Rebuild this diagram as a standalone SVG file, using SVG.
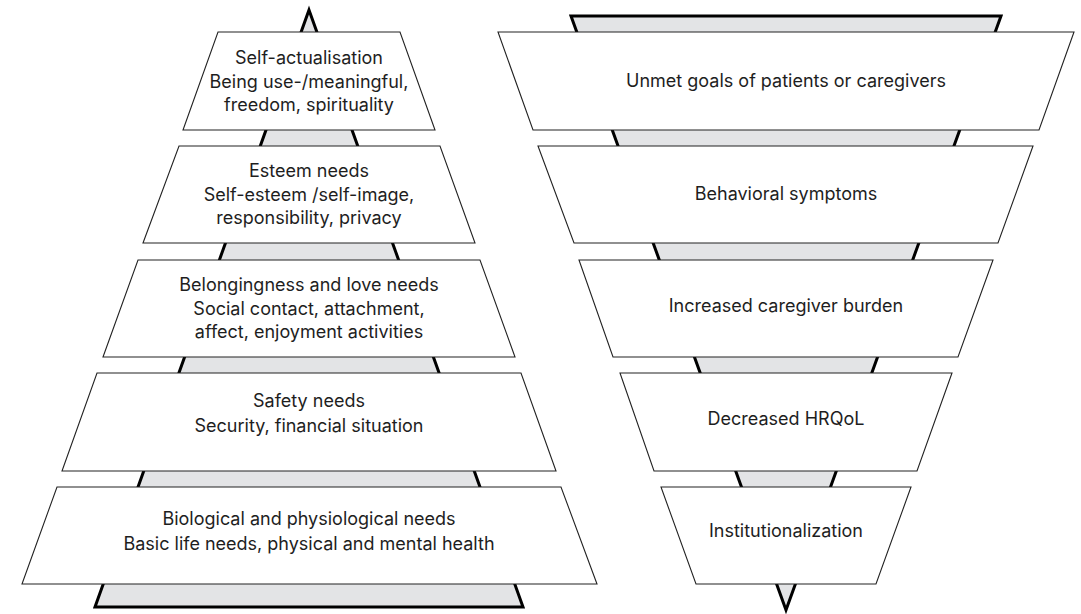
<svg xmlns="http://www.w3.org/2000/svg" width="1081" height="614" viewBox="0 0 1081 614">
  <style>
    .tri { fill: #e3e4e6; stroke: #000; stroke-width: 3; stroke-linejoin: miter; }
    .box { fill: #fff; stroke: #222; stroke-width: 1.1; }
    .t { font-family: "Inter", "Lato", sans-serif; font-size: 18px; fill: #1e1e1e; text-anchor: middle; }
  </style>
  <rect width="1081" height="614" fill="#fff"/>
  <g id="background">
    <polygon class="tri" points="309,10 523,607 95,607"/>
    <polygon class="tri" points="571,16 1001,16 786,610"/>
  </g>
  <g id="connectors"/>
  <g id="self-actualisation">
    <polygon class="box" points="218,32 400,32 435,130 183,130"/>
    <text class="t" x="309" y="64">Self-actualisation</text>
    <text class="t" x="309" y="87.5">Being use-/meaningful,</text>
    <text class="t" x="309" y="111">freedom, spirituality</text>
  </g>
  <g id="esteem">
    <polygon class="box" points="179,146 440,146 475,243 143,243"/>
    <text class="t" x="309" y="177">Esteem needs</text>
    <text class="t" x="309" y="200.5">Self-esteem /self-image,</text>
    <text class="t" x="309" y="224">responsibility, privacy</text>
  </g>
  <g id="belongingness">
    <polygon class="box" points="138,260 480,260 515,357 103,357"/>
    <text class="t" x="309" y="291">Belongingness and love needs</text>
    <text class="t" x="309" y="314.5">Social contact, attachment,</text>
    <text class="t" x="309" y="338">affect, enjoyment activities</text>
  </g>
  <g id="safety">
    <polygon class="box" points="97,373 521,373 556,471 62,471"/>
    <text class="t" x="309" y="407">Safety needs</text>
    <text class="t" x="309" y="432">Security, financial situation</text>
  </g>
  <g id="biological">
    <polygon class="box" points="57,487 561,487 597,584 22,584"/>
    <text class="t" x="309" y="525">Biological and physiological needs</text>
    <text class="t" x="309" y="550">Basic life needs, physical and mental health</text>
  </g>
  <g id="unmet-goals">
    <polygon class="box" points="498,32 1074,32 1039,130 533,130"/>
    <text class="t" x="786" y="87">Unmet goals of patients or caregivers</text>
  </g>
  <g id="behavioral">
    <polygon class="box" points="538,146 1033,146 998,243 574,243"/>
    <text class="t" x="786" y="200">Behavioral symptoms</text>
  </g>
  <g id="caregiver-burden">
    <polygon class="box" points="579,260 993,260 958,357 613,357"/>
    <text class="t" x="786" y="312">Increased caregiver burden</text>
  </g>
  <g id="hrqol">
    <polygon class="box" points="620,373 952,373 917,471 654,471"/>
    <text class="t" x="786" y="425">Decreased HRQoL</text>
  </g>
  <g id="institutionalization">
    <polygon class="box" points="661,487 911,487 876,584 696,584"/>
    <text class="t" x="786" y="537">Institutionalization</text>
  </g>
</svg>
